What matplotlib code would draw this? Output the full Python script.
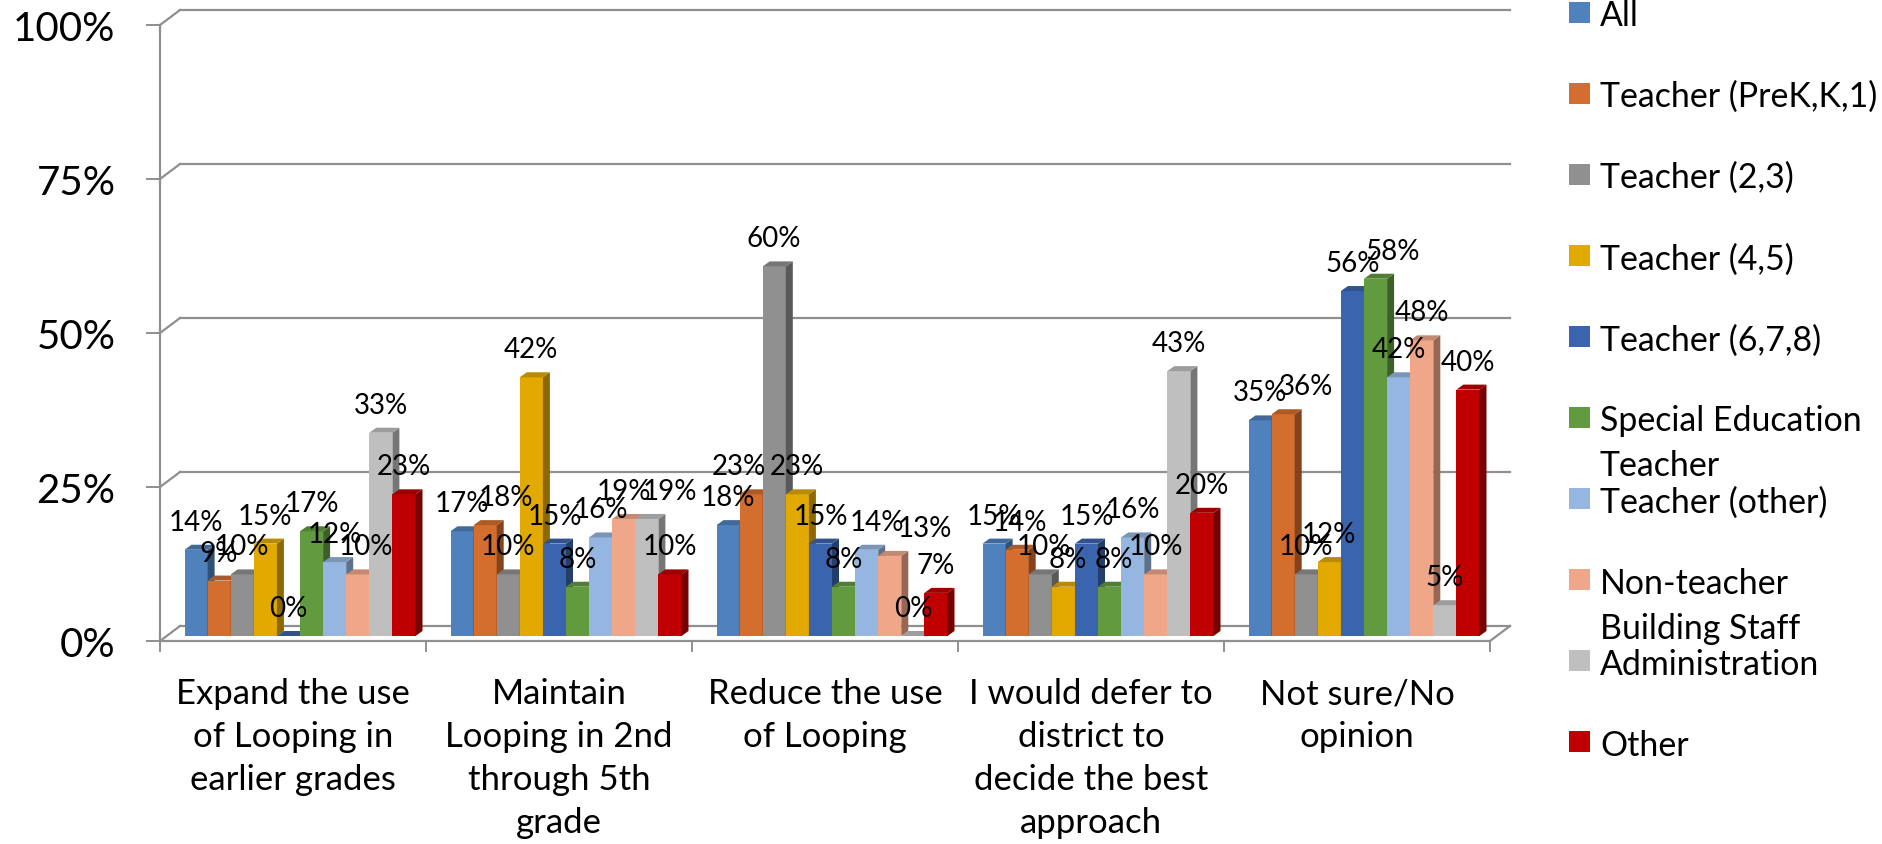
import matplotlib
matplotlib.use("Agg")
import matplotlib.pyplot as plt
from matplotlib.patches import Polygon, Rectangle
import numpy as np

plt.rcParams['font.family'] = ['Lato', 'DejaVu Sans']

# --- data -------------------------------------------------------------
categories = [
    "Expand the use\nof Looping in\nearlier grades",
    "Maintain\nLooping in 2nd\nthrough 5th\ngrade",
    "Reduce the use\nof Looping",
    "I would defer to\ndistrict to\ndecide the best\napproach",
    "Not sure/No\nopinion",
]
groups = ["All", "Teacher (PreK,K,1)", "Teacher (2,3)", "Teacher (4,5)",
          "Teacher (6,7,8)", "Special Education\nTeacher", "Teacher (other)",
          "Non-teacher\nBuilding Staff", "Administration", "Other"]

all_resp = [14, 17, 18, 15, 35]
teacher_prek = [9, 18, 23, 14, 36]
teacher_23 = [10, 10, 60, 10, 10]
teacher_45 = [15, 42, 23, 8, 12]
teacher_678 = [0, 15, 15, 15, 56]
special_ed = [17, 8, 8, 8, 58]
teacher_other = [12, 16, 14, 16, 42]
non_teacher = [10, 19, 13, 10, 48]
administration = [33, 19, 0, 43, 5]
other = [23, 10, 7, 20, 40]
series = [all_resp, teacher_prek, teacher_23, teacher_45, teacher_678,
          special_ed, teacher_other, non_teacher, administration, other]

yticks = [0, 25, 50, 75, 100]
ytick_labels = ["0%", "25%", "50%", "75%", "100%"]

colors = ["#4f81bd", "#d36e2e", "#909090", "#e2a900", "#3a64ad",
          "#629a40", "#95b6e0", "#f0a688", "#bfbfbf", "#c00000"]
grid_col = "#8f8f8f"

# Excel pushed a few data labels sideways to dodge neighbours (pixels)
label_nudge = {(0, 7): 8, (1, 1): 21, (1, 8): 23, (2, 1): -12, (2, 6): 10,
               (2, 7): 35, (3, 1): 3, (3, 2): 4, (3, 3): 4, (3, 5): 4,
               (4, 1): 23, (4, 5): 17}


def shade(c, f):
    r, g, b = matplotlib.colors.to_rgb(c)
    return (r * f, g * f, b * f)


# --- figure / axes (front plane) --------------------------------------
W, H = 1883, 845
fig = plt.figure(figsize=(W / 100, H / 100), dpi=100)
left, right, top, bottom = 160, 1490, 26, 642
ax = fig.add_axes([left / W, 1 - bottom / H, (right - left) / W, (bottom - top) / H])
ncat = len(categories)
ax.set_xlim(0, ncat)
ax.set_ylim(0, 100)

ux = (right - left) / ncat   # pixels per category
uy = (bottom - top) / 100    # pixels per percent
wall_dx, wall_dy = 20 / ux, 15 / uy
bar_ox, bar_oy = 7 / ux, 5 / uy
bar_dx, bar_dy = 7 / ux, 5 / uy
bw = 23.1 / ux

# back wall gridlines + left diagonals
for y in yticks:
    ax.plot([wall_dx, ncat + wall_dx], [y + wall_dy, y + wall_dy],
            color=grid_col, lw=1.6, clip_on=False, zorder=1)
    ax.plot([0, wall_dx], [y, y + wall_dy], color=grid_col, lw=1.6,
            clip_on=False, zorder=1)
# floor right diagonal
ax.plot([ncat, ncat + wall_dx], [0, wall_dy], color=grid_col, lw=1.6,
        clip_on=False, zorder=1)

# --- bars -------------------------------------------------------------
x0 = np.arange(ncat) + 0.5 - len(groups) * bw / 2 + bar_ox
for j, (vals, c) in enumerate(zip(series, colors)):
    z = 3 + j * 0.1
    bars = ax.bar(x0 + j * bw, vals, width=bw, bottom=bar_oy, align='edge',
                  color=c, linewidth=0, zorder=z, clip_on=False)
    for i, (r, v) in enumerate(zip(bars, vals)):
        xl, b = r.get_x(), r.get_y()
        xr, t = xl + r.get_width(), b + r.get_height()
        side = Polygon([(xr, b), (xr + bar_dx, b + bar_dy), (xr + bar_dx, t + bar_dy), (xr, t)],
                       closed=True, facecolor=shade(c, 0.62), linewidth=0,
                       zorder=z + 0.01, clip_on=False)
        cap = Polygon([(xl, t), (xl + bar_dx, t + bar_dy), (xr + bar_dx, t + bar_dy), (xr, t)],
                      closed=True, facecolor=shade(c, 0.82), linewidth=0,
                      zorder=z + 0.02, clip_on=False)
        ax.add_patch(side)
        ax.add_patch(cap)
        ax.annotate(f"{v}%", ((xl + xr) / 2, t),
                    xytext=(label_nudge.get((i, j), 0), 20),
                    textcoords='offset pixels', ha='center', va='baseline',
                    fontsize=20, zorder=20, annotation_clip=False)

# --- axes styling -----------------------------------------------------
for s in ['top', 'right']:
    ax.spines[s].set_visible(False)
for s in ['left', 'bottom']:
    ax.spines[s].set_color(grid_col)
    ax.spines[s].set_linewidth(1.6)

ax.set_yticks(yticks, ytick_labels)
ax.tick_params(axis='y', length=10, width=1.4, color=grid_col, pad=22, labelsize=29)
ax.set_xticks(np.arange(ncat) + 0.5, categories)
ax.set_xticks(np.arange(ncat + 1), minor=True)
ax.tick_params(axis='x', which='major', length=0, pad=26, labelsize=25)
ax.tick_params(axis='x', which='minor', length=8, width=1.4, color=grid_col)
for lab in ax.get_xticklabels():
    lab.set_linespacing(1.42)

# --- legend (drawn by hand, Excel style) ------------------------------
leg_x, leg_y0, leg_step, sq = 1569, 13, 81.1, 21
for k, (name, c) in enumerate(zip(groups, colors)):
    cy = leg_y0 + k * leg_step
    fig.add_artist(Rectangle((leg_x / W, 1 - (cy + sq / 2) / H), sq / W, sq / H,
                             transform=fig.transFigure, facecolor=c, linewidth=0))
    for li, line in enumerate(name.split("\n")):
        fig.text((leg_x + 31) / W, 1 - (cy + li * 45) / H, line,
                 ha='left', va='center_baseline', fontsize=24.4)

fig.savefig("out.png", dpi=100)
